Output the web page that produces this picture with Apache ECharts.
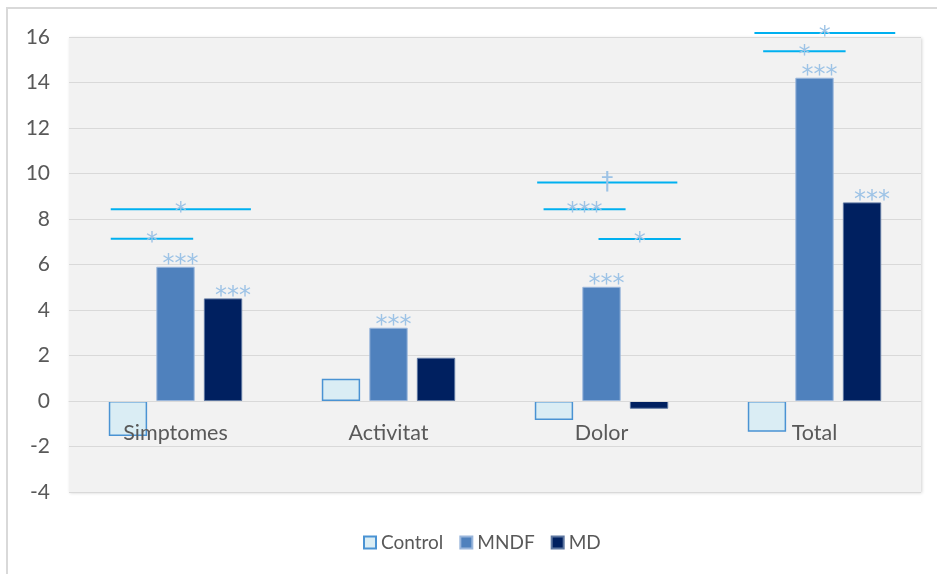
<!DOCTYPE html>
<html>
<head>
<meta charset="utf-8">
<script src="https://cdn.jsdelivr.net/npm/echarts@6/dist/echarts.min.js"></script>
<style>
  html, body { margin: 0; padding: 0; background: #ffffff; }
  #chart { width: 937px; height: 574px; }
</style>
</head>
<body>
<div id="chart"></div>
<script>
// Categories and group values
const categories = ['Simptomes', 'Activitat', 'Dolor', 'Total'];
const controlValues = [-1.54, 0.98, -0.84, -1.35];
const mndfValues = [5.9, 3.22, 5.02, 14.21];
const mdValues = [4.51, 1.9, -0.34, 8.73];

// Significance marks printed above the bars
const mndfSignif = ['***', '***', '***', '***'];
const mdSignif = ['***', '', '', '***'];

// Value axis range
const yMin = -4;
const yMax = 16;
const yStep = 2;

// Comparison brackets: category, start/end across the category band, level, mark
const bracketCategory = [0, 0, 2, 2, 2, 3, 3];
const bracketFrom = [-0.304, -0.304, -0.302, -0.272, -0.014, -0.282, -0.241];
const bracketTo = [0.354, 0.083, 0.356, 0.113, 0.372, 0.379, 0.146];
const bracketLevel = [8.43, 7.13, 9.6, 8.43, 7.12, 16.18, 15.37];
const bracketMark = ['*', '*', '\u2020', '***', '*', '*', '*'];

const FONT = 'Lato, "Open Sans", sans-serif';
const STAR_FONT = '"DejaVu Sans", sans-serif';
const TEXT = '#595959';
const STAR = '#9dc3e6';

const bracketData = bracketCategory.map((c, i) => [c, bracketFrom[i], bracketTo[i], bracketLevel[i]]);

const chart = echarts.init(document.getElementById('chart'), null, { renderer: 'canvas' });

const starLabel = (marks, dx) => ({
  show: true,
  position: 'top',
  distance: 0,
  offset: [dx, 10],
  formatter: p => marks[p.dataIndex],
  fontFamily: STAR_FONT,
  fontSize: 24,
  color: STAR
});

chart.setOption({
  animation: false,
  backgroundColor: '#ffffff',
  graphic: [{
    type: 'rect',
    z: -10,
    shape: { x: 7, y: 8, width: 960, height: 620 },
    style: { fill: 'none', stroke: '#d9d9d9', lineWidth: 2 }
  }],
  grid: {
    left: 69, right: 16, top: 37, bottom: 82,
    show: true,
    backgroundColor: '#f2f2f2',
    borderWidth: 0,
    shadowColor: 'rgba(0,0,0,0.18)',
    shadowBlur: 3,
    shadowOffsetX: 1,
    shadowOffsetY: 1
  },
  legend: {
    top: 528,
    left: 358,
    itemWidth: 12,
    itemHeight: 12,
    itemGap: 16,
    textStyle: { fontFamily: FONT, fontSize: 19, color: TEXT },
    data: [
      { name: 'Control', icon: 'rect' },
      { name: 'MNDF', icon: 'rect' },
      { name: 'MD', icon: 'rect' }
    ]
  },
  xAxis: {
    type: 'category',
    data: categories,
    z: 10,
    axisLine: { show: true, onZero: true, lineStyle: { color: '#d9d9d9', width: 1 } },
    axisTick: { show: false },
    axisLabel: { margin: 21, fontFamily: FONT, fontSize: 21.5, color: TEXT }
  },
  yAxis: {
    type: 'value',
    min: yMin,
    max: yMax,
    interval: yStep,
    axisLine: { show: false },
    axisTick: { show: false },
    axisLabel: { margin: 19, fontFamily: FONT, fontSize: 21, color: TEXT },
    splitLine: { lineStyle: { color: '#d9d9d9', width: 1 } }
  },
  series: [
    {
      name: 'Control',
      type: 'bar',
      data: controlValues,
      barWidth: '18%',
      barGap: '24%',
      itemStyle: { color: '#daedf4', borderColor: '#4a93d3', borderWidth: 1.5 }
    },
    {
      name: 'MNDF',
      type: 'bar',
      data: mndfValues,
      barWidth: '18%',
      barGap: '24%',
      itemStyle: { color: '#4f81bd', borderColor: '#9ab6db', borderWidth: 1 },
      label: starLabel(mndfSignif, 5)
    },
    {
      name: 'MD',
      type: 'bar',
      data: mdValues,
      barWidth: '18%',
      barGap: '24%',
      itemStyle: { color: '#002060', borderColor: '#5d76a0', borderWidth: 1 },
      label: starLabel(mdSignif, 10)
    },
    {
      name: 'brackets',
      type: 'custom',
      coordinateSystem: 'cartesian2d',
      clip: false,
      z: 5,
      encode: { x: 0, y: 3 },
      data: bracketData,
      renderItem: function (params, api) {
        const c = api.coord([api.value(0), api.value(3)]);
        const band = api.size([1, 0])[0];
        const x1 = c[0] + api.value(1) * band;
        const x2 = c[0] + api.value(2) * band;
        const mark = bracketMark[params.dataIndex];
        return {
          type: 'group',
          children: [
            {
              type: 'line',
              shape: { x1: x1, y1: c[1], x2: x2, y2: c[1] },
              style: { stroke: '#00b0f0', lineWidth: 2 }
            },
            {
              type: 'text',
              x: (x1 + x2) / 2,
              y: c[1] + (mark === '\u2020' ? 0 : 4),
              style: {
                text: mark,
                fill: STAR,
                font: '24px ' + STAR_FONT,
                textAlign: 'center',
                textVerticalAlign: 'middle'
              }
            }
          ]
        };
      }
    }
  ]
});

// Category labels sit on the zero line: shift the x axis up to y = 0
const zeroY = chart.convertToPixel({ yAxisIndex: 0 }, 0);
const baseY = chart.convertToPixel({ yAxisIndex: 0 }, yMin);
chart.setOption({ xAxis: { offset: zeroY - baseY } });
</script>
</body>
</html>
